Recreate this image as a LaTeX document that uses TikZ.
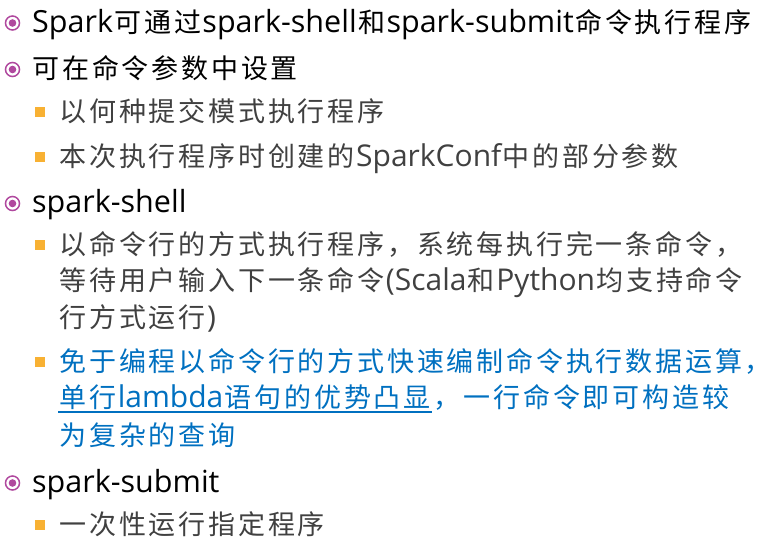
\documentclass[tikz,border=0pt]{standalone}
\usepackage{fontspec}
\setmainfont{Open Sans}
\newfontfamily\cjk{Noto Sans CJK SC}
\usepackage{tikz}

\definecolor{bulletpurple}{HTML}{B0489E}
\definecolor{bulletorange}{HTML}{F8B133}
\definecolor{bodygray}{HTML}{404040}
\definecolor{linkblue}{HTML}{0070C0}

% wide spaced chinese characters
\newcommand\zhsp{1.4pt}
\def\zhloop#1{\ifx#1\relax\else\kern\zhsp#1\kern\zhsp\expandafter\zhloop\fi}
\newcommand\zh[1]{{\cjk\fontsize{27}{31}\selectfont\zhloop#1\relax}}

\tikzset{
  lvlone/.style={anchor=base west,inner sep=0pt,font=\fontsize{30.5}{36}\selectfont},
  lvltwo/.style={anchor=base west,inner sep=0pt,text=bodygray,font=\fontsize{30}{36}\selectfont},
  ringbul/.style={circle,draw=bulletpurple,line width=1.5pt,minimum size=14pt,inner sep=0pt,
    path picture={\fill[bulletpurple] (path picture bounding box.center) circle (3.8pt);}},
  sqbul/.style={fill=bulletorange,minimum size=10pt,inner sep=0pt}
}

\begin{document}
\begin{tikzpicture}[x=1pt,y=-1pt]
  \useasboundingbox (0,0) rectangle (777,546);
  % level one
  \node[lvlone] (l1) at (32,32) {Spark\zh{可通过}spark-shell\zh{和}spark-submit\zh{命令执行程序}};
  \node[lvlone] (l2) at (31,78) {\zh{可在命令参数中设置}};
  \node[lvlone] (l5) at (32,212) {spark-shell};
  \node[lvlone] (l12) at (32,492) {spark-submit};
  % level two
  \node[lvltwo] (l3) at (58,121) {\zh{以何种提交模式执行程序}};
  \node[lvltwo] (l4) at (58,166) {\zh{本次执行程序时创建的}SparkConf\zh{中的部分参数}};
  \node[lvltwo] (l6) at (58,254) {\zh{以命令行的方式执行程序，系统每执行完一条命令，}};
  \node[lvltwo] (l7) at (58,290) {\zh{等待用户输入下一条命令}(Scala\zh{和}Python\zh{均支持命令}};
  \node[lvltwo] (l8) at (58,327) {\zh{行方式运行})};
  \node[lvltwo,text=linkblue] (l9) at (58,371) {\zh{免于编程以命令行的方式快速编制命令执行数据运算，}};
  \node[lvltwo,text=linkblue] (l10a) at (58,407) {\zh{单行}lambda\zh{语句的优势凸显}};
  \node[lvltwo,text=linkblue,anchor=base west] (l10b) at (l10a.base east) {\zh{，一行命令即可构造较}};
  \node[lvltwo,text=linkblue] (l11) at (58,445) {\zh{为复杂的查询}};
  \draw[linkblue,line width=1.2pt] ([yshift=-5pt]l10a.base west) -- ([yshift=-5pt]l10a.base east);
  % bullets
  \foreach \y/\n in {23/b1,69.5/b2,203.5/b5,483/b12}
    \node[ringbul] (\n) at (12.5,\y) {};
  \foreach \y/\n in {112/b3,157/b4,245/b6,362/b9,525/b13}
    \node[sqbul] (\n) at (40,\y) {};
  \node[lvltwo] (l13) at (58,534) {\zh{一次性运行指定程序}};
\end{tikzpicture}
\end{document}
